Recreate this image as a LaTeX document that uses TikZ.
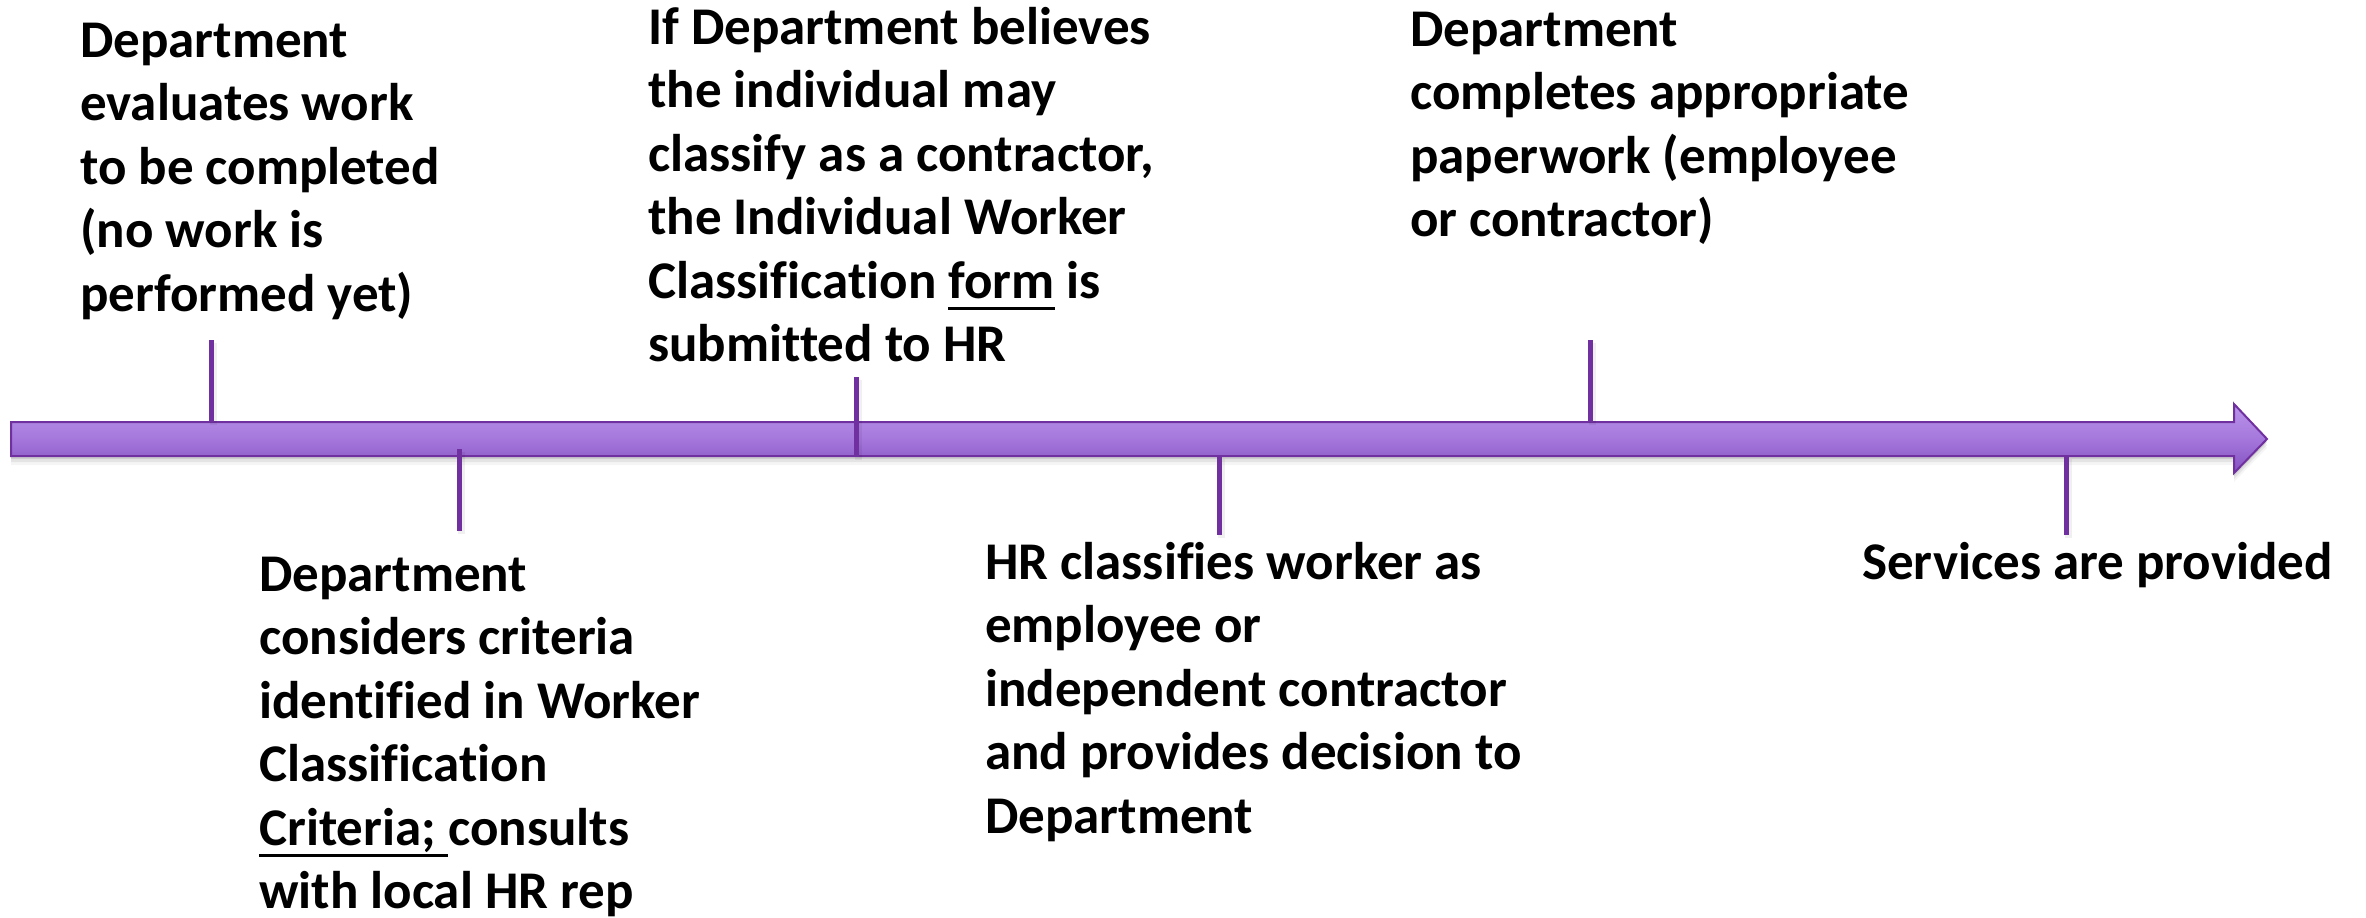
\documentclass[tikz,border=0pt]{standalone}
\usepackage{fontspec}
\setmainfont{Carlito}[Ligatures=NoCommon]
\definecolor{linepurple}{RGB}{112,48,160}
\definecolor{bartop}{RGB}{186,148,234}
\definecolor{barmid}{RGB}{165,120,220}
\definecolor{barbottom}{RGB}{132,80,192}
% underline drawn as a rule of fixed depth and thickness
\newcommand\ulword[1]{\setbox0=\hbox{#1}\rlap{\rule[-12pt]{\wd0}{3.5pt}}\box0\relax}
% left-aligned block whose baseline is the first line
\newcommand\block[1]{\begin{tabular}[t]{@{}l@{}}#1\end{tabular}}
\begin{document}
\begin{tikzpicture}[x=1pt,y=-1pt,
  lbl/.style={anchor=base west, inner sep=0pt,
    font=\fontsize{53}{63.5}\selectfont\bfseries},
  ticksty/.style={draw=linepurple, line width=5pt},
  tickshadow/.style={draw=black, line width=7pt, opacity=0.06},
]
\useasboundingbox (0,0) rectangle (2366,918);

% timeline arrow: soft shadow, then shaded body
\foreach \d/\o in {3/0.10,6/0.07,9/0.04}{
  \fill[black, opacity=\o]
    (11,422+\d) -- (2234,422+\d) -- (2234,404+\d) -- (2267,439+\d)
    -- (2234,473+\d) -- (2234,456+\d) -- (11,456+\d) -- cycle;
}
\path[top color=bartop, bottom color=barbottom, middle color=barmid,
      draw=linepurple, line width=2pt]
  (11,422) -- (2234,422) -- (2234,404) -- (2267,439)
  -- (2234,473) -- (2234,456) -- (11,456) -- cycle;
\node[inner sep=0pt] (bar) at (1139,439) {};

% tick ends
\coordinate (t1a) at (211,340);  \coordinate (t1b) at (211,422);
\coordinate (t2a) at (459,449);  \coordinate (t2b) at (459,531);
\coordinate (t3a) at (856,377);  \coordinate (t3b) at (856,457);
\coordinate (t4a) at (1219,456); \coordinate (t4b) at (1219,535);
\coordinate (t5a) at (1590,340); \coordinate (t5b) at (1590,422);
\coordinate (t6a) at (2066,456); \coordinate (t6b) at (2066,535);

\foreach \t in {t1,t2,t3,t4,t5,t6}{
  \draw[tickshadow] ([shift={(2,3)}]\t a) -- ([shift={(2,3)}]\t b);
  \draw[ticksty] (\t a) -- (\t b);
}

% step labels
\node[lbl] (s1) at (80,57) {\block{Department\\ evaluates work\\ to be completed\\ (no work is\\ performed yet)}};
\node[lbl] (s2) at (259,591) {\block{Department\\ considers criteria\\ identified in Worker\\ Classification\\ \ulword{Criteria;\ }consults\\ with local HR rep}};
\node[lbl] (s3) at (648,44) {\block{If Department believes\\ the individual may\\ classify as a contractor,\\ the Individual Worker\\ Classification \ulword{form} is\\ submitted to HR}};
\node[lbl] (s4) at (985,579) {\block{HR classifies worker as\\ employee or\\ independent contractor\\ and provides decision to\\ Department}};
\node[lbl] (s5) at (1410,46) {\block{Department\\ completes appropriate\\ paperwork (employee\\ or contractor)}};
\node[lbl] (s6) at (1862,579) {Services are provided};
\end{tikzpicture}
\end{document}
